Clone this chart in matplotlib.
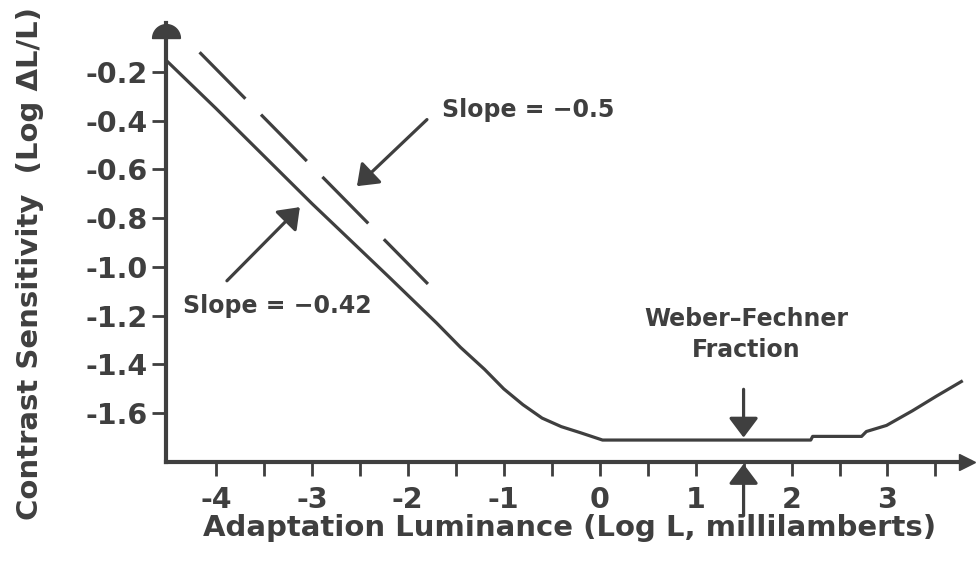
import numpy as np
import matplotlib
matplotlib.use("Agg")
import matplotlib.pyplot as plt
from matplotlib.path import Path

# ---- data ----
curve_x = [-4.5, -4.0, -3.0, -2.2, -1.95, -1.70, -1.45, -1.20, -1.00, -0.80, -0.60, -0.40,
           -0.20, 0.03, 1.0, 2.2, 2.22, 2.73, 2.78, 2.99, 3.26, 3.51, 3.77]
curve_y = [-0.16, -0.35, -0.74, -1.04, -1.135, -1.23, -1.33, -1.42, -1.50, -1.565, -1.62, -1.655,
           -1.68, -1.71, -1.71, -1.71, -1.695, -1.695, -1.675, -1.65, -1.59, -1.53, -1.47]

dashed_x = [-4.17, -1.79]
dashed_y = [-0.12, -1.07]

xtick_pos = [-4, -3.5, -3, -2.5, -2, -1.5, -1, -0.5, 0, 0.5, 1, 1.5, 2, 2.5, 3, 3.5]
xtick_labels = ['-4', '', '-3', '', '-2', '', '-1', '', '0', '', '1', '', '2', '', '3', '']
ytick_pos = [-0.2, -0.4, -0.6, -0.8, -1.0, -1.2, -1.4, -1.6]
ytick_labels = ['-0.2', '-0.4', '-0.6', '-0.8', '-1.0', '-1.2', '-1.4', '-1.6']

weber_x = 1.5
weber_y = -1.70

C = '#3f3f3f'
W, H = 977, 562
fig = plt.figure(figsize=(W / 100, H / 100), dpi=100)
fig.patch.set_facecolor('white')
ax = fig.add_axes([166 / W, 1 - 462 / H, (970 - 166) / W, (462 - 23) / H])
ax.set_xlim(-4.52, 3.86)
ax.set_ylim(-1.8, 0.0)

for s in ['top', 'right']:
    ax.spines[s].set_visible(False)
for s in ['left', 'bottom']:
    ax.spines[s].set_linewidth(3)
    ax.spines[s].set_color(C)

ax.set_xticks(xtick_pos)
ax.set_xticklabels(xtick_labels)
ax.set_yticks(ytick_pos)
ax.set_yticklabels(ytick_labels)
ax.tick_params(axis='both', direction='out', length=10, width=2, color=C,
               labelcolor=C, labelsize=20.5)
ax.tick_params(axis='x', pad=7)
ax.tick_params(axis='y', pad=3)
for lab in ax.get_xticklabels() + ax.get_yticklabels():
    lab.set_fontweight('bold')

# axis arrowheads
t = np.linspace(0, np.pi, 30)
dome = Path(np.column_stack([np.cos(t), np.sin(t)]).tolist() + [[1, 0]], closed=False)
ax.plot([-4.52], [-0.061], marker=dome, markersize=20, color=C, clip_on=False, zorder=5)
ax.plot([3.83], [-1.8], marker='>', markersize=11, color=C, clip_on=False, zorder=5)

# curve and dashed reference line
ax.plot(curve_x, curve_y, color=C, lw=2.3, zorder=3)
plt.rcParams['lines.scale_dashes'] = False
ax.plot(dashed_x, dashed_y, color=C, lw=2.3, linestyle=(0, (47, 16)), zorder=3)

tk = dict(color=C, fontweight='bold', fontsize=17, family='DejaVu Sans')
ap = dict(arrowstyle='-|>,head_length=0.6,head_width=0.45', color=C, lw=2.3,
          mutation_scale=20, shrinkA=0, shrinkB=0)

ax.text(-1.64, -0.355, 'Slope = \u22120.5', ha='left', va='center', **tk)
ax.annotate('', xy=(-2.53, -0.669), xytext=(-1.80, -0.396), arrowprops=ap)

ax.text(-4.34, -1.159, 'Slope = \u22120.42', ha='left', va='center', **tk)
ax.annotate('', xy=(-3.125, -0.755), xytext=(-3.885, -1.057), arrowprops=ap)

ax.text(1.53, -1.278, 'Weber\u2013Fechner\nFraction', ha='center', va='center',
        linespacing=1.35, **tk)
ax.annotate('', xy=(weber_x, weber_y), xytext=(weber_x, -1.502), arrowprops=ap)
ax.annotate('', xy=(weber_x, -1.808), xytext=(weber_x, -2.02), arrowprops=ap,
            annotation_clip=False)

fig.text(570 / W, 1 - 528 / H, 'Adaptation Luminance (Log L, millilamberts)',
         ha='center', va='center', color=C, fontsize=21, fontweight='bold')
fig.text(30 / W, 1 - 264 / H, 'Contrast Sensitivity  (Log \u0394L/L)', rotation=90,
         ha='center', va='center', color=C, fontsize=21, fontweight='bold')

fig.savefig('out.png', dpi=100, facecolor='white')
